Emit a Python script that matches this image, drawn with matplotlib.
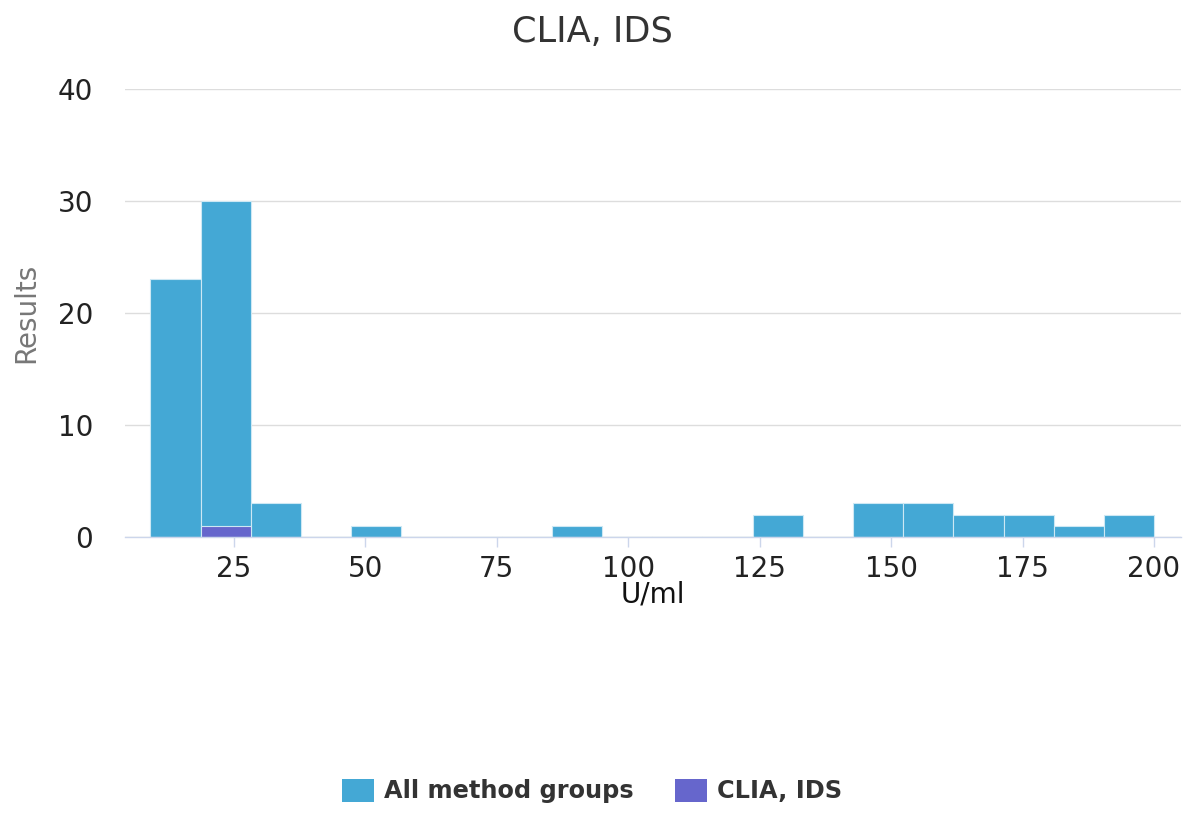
import numpy as np
import matplotlib
matplotlib.use('Agg')
import matplotlib.pyplot as plt
from matplotlib.patches import Patch

# Histogram data (20 equal bins from the min to the max value)
data_min = 9.2
data_max = 200
all_counts = [23, 30, 3, 0, 1, 0, 0, 0, 1, 0, 0, 0, 2, 0, 3, 3, 2, 2, 1, 2]
clia_counts = [0, 1, 0, 0, 0, 0, 0, 0, 0, 0, 0, 0, 0, 0, 0, 0, 0, 0, 0, 0]
x_ticks = [25, 50, 75, 100, 125, 150, 175, 200]
y_ticks = [0, 10, 20, 30, 40]
series_names = ['All method groups', 'CLIA, IDS']

blue = '#44a8d5'
purple = '#6666cc'

plt.rcParams['font.family'] = ['DejaVu Sans']

fig = plt.figure(figsize=(11.84, 8.14), dpi=100)
ax = fig.add_axes([0.1056, 0.3403, 0.8922, 0.5504])

edges = np.linspace(data_min, data_max, len(all_counts) + 1)
widths = np.diff(edges)
ax.bar(edges[:-1], all_counts, width=widths, align='edge', color=blue,
       edgecolor='#cde8f4', linewidth=0.8, zorder=2)
ax.bar(edges[:-1], clia_counts, width=widths, align='edge', color=purple,
       edgecolor='#cde8f4', linewidth=0.8, zorder=3)

ax.set_xlim(4.36, 205.2)
ax.set_ylim(0, 40)
ax.set_xticks(x_ticks)
ax.set_yticks(y_ticks)
ax.grid(axis='y', color='#dddddd', linewidth=1, zorder=0)
ax.set_axisbelow(True)

for side in ['top', 'right', 'left']:
    ax.spines[side].set_visible(False)
ax.spines['bottom'].set_color('#ccd6eb')
ax.spines['bottom'].set_linewidth(1)
ax.spines['bottom'].set_zorder(4)

ax.tick_params(axis='x', length=7.2, width=1, color='#ccd6eb', pad=6,
               labelsize=20, labelcolor='#222222')
ax.tick_params(axis='y', length=0, pad=23, labelsize=20, labelcolor='#222222')

ax.set_xlabel('U/ml', fontsize=20, color='#111111', va='center')
ax.xaxis.set_label_coords(0.5, -0.129)
ax.set_ylabel('Results', fontsize=20, color='#777777', va='center')
ax.yaxis.set_label_coords(-0.0937, 0.5)

fig.suptitle('CLIA, IDS', x=0.5, y=0.961, va='center', fontsize=25.3, color='#333333')

handles = [Patch(facecolor=blue, edgecolor='none'), Patch(facecolor=purple, edgecolor='none')]
leg = fig.legend(handles, series_names, loc='center', bbox_to_anchor=(0.5, 0.028), ncol=2,
                 frameon=False, prop={'size': 17.3, 'weight': 'bold'},
                 handlelength=1.33, handleheight=1.08, handletextpad=0.42, columnspacing=1.75)
for t in leg.get_texts():
    t.set_color('#333333')

fig.savefig('out.png', dpi=100)
